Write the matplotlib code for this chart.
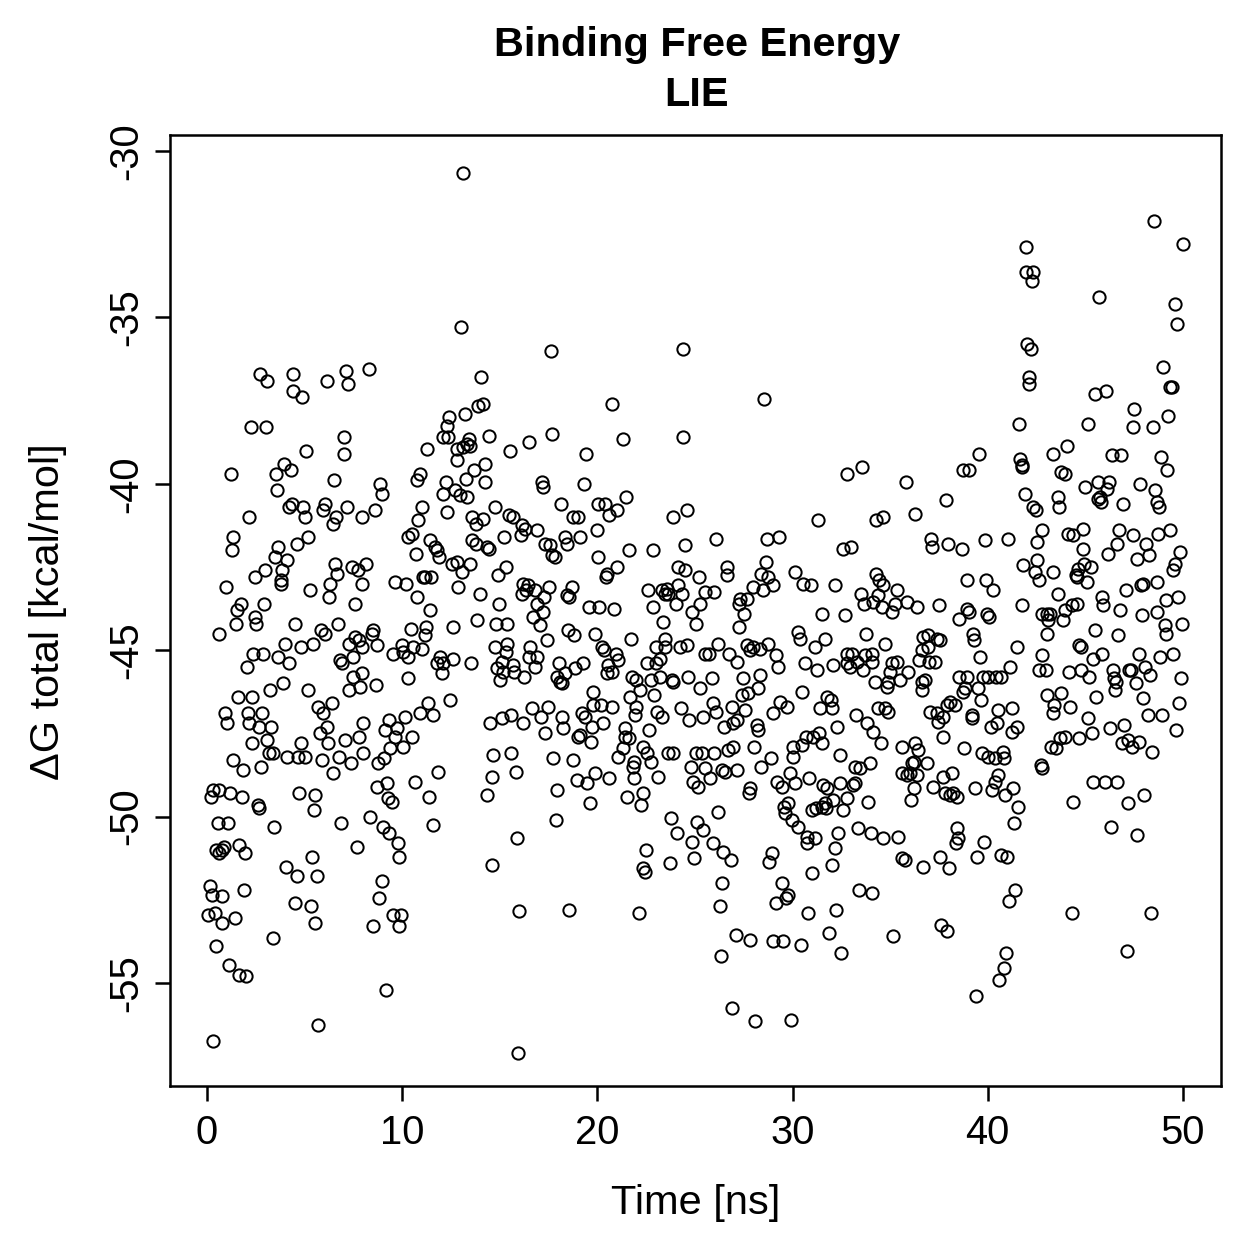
#!/usr/bin/python
# LIE binding free energy vs simulation time, R base-graphics look
import matplotlib
matplotlib.use("Agg")
import matplotlib.pyplot as plt

plt.rcParams['font.family'] = ['Liberation Sans', 'DejaVu Sans']

# values, one block per time window
time_ns = [
    # ~0-8 ns, upper part
    2.7, 3.05, 4.4, 4.4, 4.85, 6.15, 7.1, 7.2, 2.25, 3.0,
    7.0, 7.0, 5.05, 3.95, 4.3, 3.55, 1.25, 6.5, 3.6, 4.35,
    4.2, 4.9, 5.0, 6.05, 5.95, 6.6, 6.45, 7.15, 7.95, 2.15,
    1.35, 1.3, 3.65, 4.6, 5.15, 3.5, 4.1, 2.95, 2.45, 3.85,
    3.8, 3.8, 0.95, 5.3, 6.55, 6.65, 6.3, 6.25, 7.45, 7.75,
    7.95, 7.6, 1.75, 1.55, 2.9, 2.45, 4.5, 6.7,
    # ~0-8 ns, lower part
    1.5, 2.5, 0.6, 5.85, 6.05, 7.6, 7.8, 7.95, 7.3, 2.35,
    2.85, 4.0, 4.8, 5.45, 3.65, 4.2, 2.05, 6.8, 6.9, 7.5,
    7.95, 7.5, 7.25, 7.85, 3.9, 3.25, 1.6, 2.3, 5.2, 5.7,
    6.4, 5.95, 0.9, 1.0, 2.1, 2.15, 2.8, 2.65, 3.3, 5.8,
    6.15, 6.2, 7.05, 7.8, 8.0, 2.3, 3.1, 4.8, 3.2, 3.4,
    4.1, 4.65, 5.0, 5.9, 6.75, 7.4, 6.45, 1.35, 1.85, 2.75,
    8.0, 0.3, 0.6, 0.2, 1.2, 1.8, 2.6, 2.65, 4.7, 5.55,
    5.5, 0.55, 1.1, 3.45, 6.85, 7.7, 0.85, 1.65, 1.95, 0.45,
    0.75, 0.6, 4.05, 4.6, 5.4, 5.65, 0.15, 0.25, 0.75, 1.9,
    0.05, 0.4, 0.75, 1.45, 4.5, 5.35, 5.55, 3.4, 0.45, 1.15,
    1.65, 2.0, 5.7, 0.3,
    # ~8-17 ns, upper part
    13.1, 13.0, 8.3, 14.05, 14.15, 13.9, 13.2, 12.4, 12.3, 12.1,
    12.35, 13.4, 13.3, 13.1, 13.5, 12.8, 14.45, 12.8, 16.5, 15.5,
    11.25, 14.25, 13.7, 13.25, 14.25, 10.9, 10.75, 8.85, 8.95, 12.25,
    12.1, 12.7, 12.95, 13.3, 11.0, 12.3, 14.75, 8.6, 10.8, 13.6,
    13.8, 14.15, 15.45, 15.7, 16.15, 16.3, 16.1, 10.5, 10.3, 11.4,
    11.7, 11.8, 11.9, 10.7, 13.6, 13.8, 14.35, 14.45, 15.2, 8.15,
    12.55, 12.8, 13.5, 13.05, 15.3, 14.9, 9.65, 10.2, 11.05, 11.15,
    11.5, 12.85, 10.75, 11.45, 14.0, 14.95, 16.2, 16.45, 16.35, 16.15,
    # ~8-17 ns, lower part
    13.85, 14.8, 15.35, 16.7, 12.6, 10.45, 11.2, 11.15, 8.5, 8.45,
    8.7, 9.55, 10.0, 10.05, 10.3, 10.55, 11.0, 10.3, 11.95, 11.8,
    12.1, 12.05, 12.6, 13.55, 14.75, 15.35, 15.3, 14.85, 15.1, 15.15,
    15.0, 15.7, 15.75, 16.25, 16.55, 16.5, 8.65, 11.3, 10.9, 11.6,
    12.45, 10.15, 9.3, 9.1, 9.75, 9.65, 10.5, 10.05, 9.4, 14.5,
    15.1, 15.6, 16.2, 16.65, 8.75, 9.05, 14.65, 15.6, 15.85, 14.6,
    14.35, 11.85, 10.65, 11.35, 8.7, 9.2, 9.25, 9.5, 8.35, 9.0,
    9.35, 9.8, 9.85, 11.6, 15.9, 14.6, 8.95, 8.8, 9.55, 9.95,
    9.85, 8.5, 16.0, 9.15, 15.95,
    # ~17-25 ns, upper part
    17.6, 24.4, 20.75, 17.7, 21.3, 24.4, 19.4, 17.15, 17.2, 19.3,
    18.15, 20.05, 20.4, 21.45, 21.0, 20.6, 18.75, 19.0, 23.85, 24.6,
    16.9, 17.3, 17.55, 17.7, 17.85, 18.35, 18.45, 19.1, 20.0, 20.05,
    21.6, 22.85, 24.5, 21.0, 20.5, 20.45, 24.15, 24.5, 25.2, 16.8,
    17.5, 17.25, 16.9, 17.2, 18.7, 18.45, 18.55, 19.55, 20.1, 20.85,
    22.6, 23.3, 23.55, 23.6, 23.45, 24.15, 24.35, 24.05, 22.85, 25.25,
    25.5, 24.85,
    # ~17-25 ns, lower part
    17.05, 23.35, 25.05, 18.5, 18.8, 19.9, 17.4, 21.7, 23.45, 23.0,
    23.45, 24.25, 24.6, 20.25, 20.35, 20.95, 21.05, 25.5, 16.9, 16.8,
    18.05, 18.85, 19.25, 18.35, 17.95, 18.1, 18.2, 20.55, 20.75, 20.5,
    22.55, 23.0, 23.2, 22.75, 23.2, 23.85, 23.8, 21.75, 22.0, 22.2,
    24.65, 25.25, 19.8, 19.8, 20.2, 20.75, 20.3, 17.45, 17.1, 18.2,
    18.25, 19.2, 19.35, 19.7, 19.65, 19.1, 19.0, 17.3, 21.65, 22.0,
    21.95, 22.9, 23.05, 23.3, 24.3, 24.7, 25.4, 21.4, 21.4, 21.6,
    22.65, 22.35, 22.55, 22.75, 21.3, 21.05, 21.9, 21.85, 21.9, 23.1,
    23.6, 23.9, 25.05, 25.35, 24.8, 25.5, 24.9, 25.15, 17.75, 18.75,
    18.95, 19.45, 19.9, 20.6, 17.95, 19.6, 21.5, 22.35, 22.25, 17.9,
    23.75, 24.1, 25.1, 25.4, 24.85, 24.95, 23.7, 22.5, 22.35, 22.45,
    18.55, 22.15,
    # ~25-34 ns, upper part
    28.55, 32.8, 33.55, 31.3, 26.1, 28.7, 29.3, 28.65, 28.4, 28.75,
    29.0, 28.5, 27.95, 26.65, 26.65, 32.6, 33.0, 30.1, 30.55, 30.95,
    32.2, 33.5, 33.65, 34.1, 26.0, 27.3, 27.65, 27.25, 27.5, 31.5,
    32.7,
    # ~25-34 ns, lower part
    27.25, 30.3, 30.4, 31.65, 31.15, 33.75, 26.2, 25.7, 26.75, 27.15,
    27.65, 27.95, 27.8, 28.35, 28.75, 29.15, 29.25, 30.65, 31.25, 32.05,
    32.8, 33.05, 32.8, 32.95, 33.3, 33.7, 33.6, 34.05, 25.85, 27.45,
    28.35, 28.25, 27.4, 27.7, 25.9, 26.1, 26.9, 27.55, 26.5, 26.95,
    27.15, 28.2, 28.25, 28.05, 29.0, 29.35, 29.7, 30.5, 31.4, 31.75,
    31.95, 32.0, 32.3, 33.25, 33.8, 34.1, 26.0, 26.7, 26.95, 25.75,
    26.4, 26.55, 27.15, 28.4, 28.9, 30.0, 30.0, 30.5, 30.7, 31.05,
    31.35, 31.5, 32.45, 33.2, 33.45, 33.95, 27.8, 27.75, 29.2, 29.45,
    29.85, 30.15, 30.85, 31.55, 31.75, 32.45, 32.8, 32.05, 33.1, 33.2,
    33.85, 29.55, 29.75, 29.6, 29.95, 30.3, 31.0, 31.2, 31.5, 31.7,
    31.65, 32.6, 26.2, 25.9, 26.45, 26.85, 30.75, 30.75, 31.15, 32.35,
    32.15, 32.0, 31.0, 33.35, 34.0, 28.95, 28.8, 29.45, 29.75, 29.65,
    29.15, 26.4, 26.3, 30.8, 32.25, 33.4, 34.05, 27.1, 27.8, 29.0,
    29.5, 30.45, 31.85, 32.5, 26.35, 26.9, 28.1, 29.9,
    # ~34-43 ns, upper part
    41.95, 41.95, 42.3, 42.25, 42.0, 42.2, 42.1, 42.1, 41.6, 39.55,
    41.65, 41.75, 41.75, 38.75, 39.05, 35.8, 37.85, 41.9, 42.3, 42.45,
    34.25, 34.65, 36.25, 37.1, 37.15, 37.95, 38.7, 39.85, 41.05, 42.8,
    42.5, 41.8, 42.5, 42.4, 42.65, 34.3, 34.45, 34.65, 35.35, 35.85,
    35.25, 34.4, 34.6, 35.1, 36.4, 37.5, 38.95, 39.9, 40.25, 38.95,
    39.05, 39.95, 40.05, 41.75, 42.8,
    # ~34-43 ns, lower part
    38.55, 34.75, 34.05, 34.2, 34.9, 34.85, 35.0, 35.1, 35.35, 35.5,
    35.9, 36.7, 36.95, 37.4, 37.55, 36.65, 36.95, 36.5, 37.0, 37.3,
    36.65, 36.8, 36.65, 39.25, 39.3, 39.6, 41.5, 41.15, 38.55, 38.95,
    39.75, 40.0, 40.4, 40.7, 38.85, 38.75, 39.5, 39.65, 38.05, 38.3,
    37.9, 37.05, 37.4, 37.7, 37.45, 39.2, 39.2, 40.5, 41.25, 41.5,
    41.25, 40.45, 40.15, 37.7, 34.4, 34.75, 34.9, 34.55, 35.6, 36.25,
    36.45, 36.2, 36.1, 36.9, 35.6, 35.85, 36.0, 36.35, 36.2, 36.05,
    37.2, 37.7, 38.15, 37.8, 38.05, 38.2, 38.45, 38.8, 39.7, 40.0,
    40.35, 40.8, 40.85, 39.35, 40.2, 40.35, 40.5, 40.9, 41.3, 41.55,
    41.35, 34.65, 35.4, 35.6, 35.75, 36.7, 37.55, 38.0, 38.4, 38.5,
    38.35, 39.8, 39.45, 40.7, 41.0, 41.4, 41.1, 37.6, 37.9, 35.15,
    40.95, 40.85, 40.6, 39.4,
    # ~43-50 ns, upper part
    48.5, 50.0, 45.7, 49.6, 49.7, 49.0, 45.5, 46.05, 49.35, 49.45,
    47.5, 47.45, 48.45, 49.25, 45.15, 44.05, 43.35, 43.75, 43.95, 46.35,
    46.85, 48.9, 49.2, 45.0, 45.65, 46.2, 46.1, 45.75, 45.65, 45.8,
    47.8, 48.55, 48.65, 48.75, 46.95, 43.6, 43.65, 44.1, 44.35, 44.9,
    46.7, 46.6, 47.45, 48.1, 48.7, 49.35, 44.9, 46.15, 47.65, 48.25,
    49.85, 49.6, 49.5, 43.35, 44.6, 44.95, 45.3, 44.5, 44.55, 45.1,
    43.6, 47.1, 47.85, 47.95, 48.65, 49.15, 49.75, 45.85, 45.9, 46.75,
    44.3, 44.55, 43.95, 43.05, 43.2, 47.9, 48.65,
    # ~43-50 ns, lower part
    43.1, 43.85, 49.1, 49.15, 49.95, 45.5, 46.65, 43.05, 44.7, 44.8,
    45.4, 45.85, 47.75, 48.85, 49.5, 42.8, 42.65, 43.0, 44.15, 44.8,
    45.2, 46.4, 46.45, 46.55, 46.5, 47.25, 47.35, 47.6, 48.05, 48.3,
    49.9, 43.05, 43.75, 43.4, 43.35, 44.2, 45.55, 47.95, 49.8, 45.15,
    45.35, 46.25, 47.0, 46.9, 47.2, 47.4, 47.75, 48.4, 48.2, 48.95,
    49.65, 44.65, 43.95, 43.7, 43.25, 43.5, 42.75, 42.8, 45.4, 46.0,
    46.6, 44.35, 47.2, 48.0, 46.3, 47.65, 44.3, 48.35, 47.15,
]

dg_total = [
    # ~0-8 ns, upper part
    -36.7, -36.9, -36.7, -37.2, -37.4, -36.9, -36.6, -37.0, -38.3, -38.3,
    -38.6, -39.1, -39.0, -39.4, -39.6, -39.7, -39.7, -39.9, -40.2, -40.6,
    -40.7, -40.7, -41.0, -40.6, -40.8, -41.0, -41.2, -40.7, -41.0, -41.0,
    -41.6, -42.0, -41.9, -41.8, -41.6, -42.2, -42.3, -42.6, -42.8, -42.6,
    -42.9, -43.0, -43.1, -43.2, -42.4, -42.7, -43.0, -43.4, -42.5, -42.6,
    -43.0, -43.6, -43.6, -43.8, -43.6, -44.0, -44.2, -44.2,
    # ~0-8 ns, lower part
    -44.2, -44.2, -44.5, -44.4, -44.5, -44.6, -44.7, -44.9, -44.8, -45.1,
    -45.1, -44.8, -44.9, -44.8, -45.2, -45.4, -45.5, -45.3, -45.4, -45.2,
    -45.7, -45.8, -46.2, -46.1, -46.0, -46.2, -46.4, -46.4, -46.2, -46.7,
    -46.6, -46.9, -46.9, -47.2, -46.9, -47.2, -46.9, -47.3, -47.3, -47.5,
    -47.3, -47.8, -47.7, -47.6, -47.2, -47.8, -47.7, -47.8, -48.1, -48.1,
    -48.2, -48.2, -48.2, -48.3, -48.2, -48.4, -48.7, -48.3, -48.6, -48.5,
    -48.1, -49.2, -49.2, -49.4, -49.3, -49.4, -49.65, -49.75, -49.3, -49.35,
    -49.8, -50.2, -50.2, -50.3, -50.2, -50.9, -50.9, -50.85, -51.1, -51.0,
    -51.0, -51.1, -51.5, -51.8, -51.2, -51.8, -52.1, -52.35, -52.4, -52.2,
    -52.95, -52.9, -53.2, -53.05, -52.6, -52.7, -53.2, -53.65, -53.9, -54.45,
    -54.75, -54.8, -56.25, -56.75,
    # ~8-17 ns, upper part
    -30.65, -35.3, -36.55, -36.8, -37.6, -37.65, -37.9, -38.0, -38.25, -38.6,
    -38.6, -38.65, -38.8, -38.9, -38.85, -38.95, -38.55, -39.3, -38.75, -39.0,
    -38.95, -39.4, -39.6, -39.85, -39.95, -39.7, -39.9, -40.0, -40.3, -39.95,
    -40.3, -40.2, -40.35, -40.4, -40.7, -40.85, -40.7, -40.8, -41.1, -41.0,
    -41.2, -41.05, -40.95, -41.0, -41.25, -41.35, -41.55, -41.5, -41.6, -41.7,
    -41.9, -42.0, -42.2, -42.1, -41.7, -41.8, -41.9, -41.95, -41.6, -42.4,
    -42.4, -42.35, -42.4, -42.65, -42.5, -42.75, -42.95, -43.0, -42.8, -42.8,
    -42.8, -43.1, -43.4, -43.8, -43.3, -43.6, -43.0, -43.05, -43.2, -43.3,
    # ~8-17 ns, lower part
    -44.1, -44.2, -44.2, -44.0, -44.3, -44.35, -44.3, -44.55, -44.4, -44.5,
    -44.85, -45.1, -44.85, -45.05, -45.2, -44.9, -44.95, -45.85, -45.2, -45.4,
    -45.4, -45.7, -45.25, -45.4, -44.9, -44.8, -45.05, -45.55, -45.35, -45.65,
    -45.9, -45.45, -45.65, -45.8, -44.9, -45.2, -46.05, -46.6, -46.9, -46.95,
    -46.5, -47.0, -47.1, -47.4, -47.35, -47.6, -47.6, -47.9, -47.95, -47.2,
    -47.05, -46.95, -47.2, -46.75, -48.4, -48.25, -48.15, -48.1, -48.65, -48.8,
    -49.35, -48.65, -48.95, -49.4, -49.1, -49.0, -49.45, -49.55, -50.0, -50.3,
    -50.5, -50.8, -51.2, -50.25, -50.65, -51.45, -51.95, -52.45, -52.95, -52.95,
    -53.3, -53.3, -52.85, -55.2, -57.1,
    # ~17-25 ns, upper part
    -36.0, -35.95, -37.6, -38.5, -38.65, -38.6, -39.1, -39.95, -40.1, -40.0,
    -40.6, -40.6, -40.6, -40.4, -40.8, -40.95, -41.0, -41.0, -41.0, -40.8,
    -41.4, -41.8, -41.85, -42.15, -42.2, -41.6, -41.8, -41.6, -41.4, -42.2,
    -42.0, -42.0, -41.85, -42.5, -42.7, -42.8, -42.5, -42.6, -42.8, -43.2,
    -43.1, -43.4, -43.6, -43.85, -43.1, -43.35, -43.4, -43.7, -43.7, -43.75,
    -43.2, -43.2, -43.15, -43.3, -43.3, -43.05, -43.3, -43.6, -43.7, -43.6,
    -43.25, -43.85,
    # ~17-25 ns, lower part
    -44.25, -44.15, -44.2, -44.4, -44.55, -44.5, -44.7, -44.65, -44.65, -44.9,
    -44.9, -44.9, -44.85, -44.9, -45.0, -45.1, -45.3, -45.1, -45.2, -45.5,
    -45.4, -45.55, -45.4, -45.7, -45.8, -45.95, -46.0, -45.45, -45.65, -45.7,
    -45.4, -45.4, -45.25, -45.9, -45.8, -45.95, -45.9, -45.8, -45.9, -46.2,
    -45.8, -46.15, -46.25, -46.65, -46.65, -46.7, -47.2, -46.7, -47.0, -47.0,
    -47.35, -46.9, -47.0, -47.3, -47.75, -47.55, -47.6, -47.5, -46.4, -46.7,
    -46.95, -46.35, -46.85, -47.0, -46.75, -47.1, -47.0, -47.35, -47.6, -47.65,
    -47.4, -47.9, -48.1, -48.35, -47.95, -48.2, -48.35, -48.5, -48.85, -48.8,
    -48.1, -48.1, -48.1, -48.1, -48.5, -48.55, -48.95, -49.1, -48.25, -48.3,
    -48.9, -49.0, -48.7, -48.85, -49.2, -49.6, -49.4, -49.3, -49.65, -50.1,
    -50.05, -50.5, -50.15, -50.4, -50.75, -51.25, -51.4, -51.0, -51.55, -51.65,
    -52.8, -52.9,
    # ~25-34 ns, upper part
    -37.45, -39.7, -39.5, -41.1, -41.65, -41.65, -41.6, -42.35, -42.7, -42.8,
    -43.05, -43.2, -43.1, -42.5, -42.75, -41.95, -41.9, -42.65, -43.0, -43.05,
    -43.05, -43.3, -43.6, -43.55, -43.25, -43.45, -43.45, -43.6, -43.9, -43.9,
    -43.95,
    # ~25-34 ns, lower part
    -44.3, -44.45, -44.65, -44.65, -44.9, -44.5, -44.8, -45.1, -45.1, -45.35,
    -44.85, -44.9, -45.0, -44.95, -44.8, -45.15, -45.5, -45.4, -45.6, -45.45,
    -45.1, -45.1, -45.4, -45.5, -45.35, -45.15, -45.6, -45.35, -45.85, -45.85,
    -45.75, -46.15, -46.35, -46.3, -46.6, -46.85, -46.7, -46.8, -47.3, -47.2,
    -47.1, -47.25, -47.4, -47.9, -46.9, -46.55, -46.7, -46.25, -46.75, -46.4,
    -46.5, -46.75, -47.3, -46.95, -47.2, -47.45, -48.1, -48.0, -47.9, -48.85,
    -48.6, -48.65, -48.6, -48.5, -48.25, -47.9, -48.2, -47.85, -47.6, -47.6,
    -47.5, -47.8, -48.15, -48.5, -48.55, -48.4, -49.15, -49.3, -48.95, -49.1,
    -48.7, -49.0, -48.85, -49.05, -49.15, -49.0, -49.45, -49.5, -49.05, -49.0,
    -49.55, -49.7, -49.6, -49.9, -50.1, -50.3, -49.8, -49.75, -49.7, -49.75,
    -49.6, -49.8, -49.85, -50.8, -51.05, -51.3, -50.6, -50.8, -50.65, -50.5,
    -50.95, -51.45, -51.7, -50.35, -50.5, -51.1, -51.35, -52.0, -52.35, -52.45,
    -52.6, -52.0, -52.7, -52.9, -52.8, -52.2, -52.3, -53.55, -53.7, -53.75,
    -53.75, -53.85, -53.5, -54.1, -54.2, -55.75, -56.15, -56.1,
    # ~34-43 ns, upper part
    -32.9, -33.65, -33.65, -33.9, -35.8, -35.95, -36.8, -37.0, -38.2, -39.1,
    -39.25, -39.45, -39.5, -39.6, -39.6, -39.95, -40.5, -40.3, -40.7, -40.8,
    -41.1, -41.0, -40.9, -41.65, -41.9, -41.8, -41.95, -41.7, -41.65, -41.4,
    -41.75, -42.45, -42.3, -42.65, -42.9, -42.7, -42.9, -43.05, -43.2, -43.55,
    -43.6, -43.35, -43.7, -43.85, -43.7, -43.65, -42.9, -42.9, -43.2, -43.75,
    -43.85, -43.9, -44.0, -43.65, -43.9,
    # ~34-43 ns, lower part
    -44.05, -44.8, -45.1, -45.95, -45.95, -46.1, -45.65, -45.4, -45.35, -45.9,
    -45.65, -44.6, -44.55, -44.65, -44.7, -45.0, -44.9, -45.3, -45.35, -45.35,
    -45.95, -45.9, -46.2, -44.5, -44.7, -45.2, -44.9, -45.5, -45.8, -45.8,
    -45.8, -45.8, -45.8, -45.8, -46.15, -46.25, -46.15, -46.5, -46.55, -46.65,
    -46.65, -46.85, -46.9, -47.0, -47.15, -46.95, -47.05, -46.8, -46.75, -47.3,
    -47.45, -47.2, -47.3, -47.6, -46.75, -46.75, -46.85, -47.8, -47.9, -47.8,
    -48.0, -48.35, -48.4, -48.4, -48.7, -48.75, -48.7, -48.75, -49.15, -49.5,
    -49.1, -48.8, -48.7, -49.3, -49.35, -49.3, -49.4, -47.95, -48.1, -48.2,
    -48.25, -48.05, -48.25, -49.15, -49.2, -48.95, -48.75, -49.35, -49.15, -49.7,
    -50.2, -50.65, -50.6, -51.25, -51.3, -51.5, -51.2, -51.55, -50.35, -50.65,
    -50.8, -50.75, -51.2, -51.15, -51.2, -52.2, -52.55, -53.25, -53.45, -53.6,
    -54.1, -54.55, -54.9, -55.4,
    # ~43-50 ns, upper part
    -32.1, -32.8, -34.4, -34.6, -35.2, -36.5, -37.3, -37.2, -37.1, -37.1,
    -37.75, -38.3, -38.3, -37.95, -38.2, -38.85, -39.1, -39.65, -39.7, -39.15,
    -39.15, -39.2, -39.6, -40.1, -39.95, -39.95, -40.15, -40.4, -40.45, -40.55,
    -40.0, -40.2, -40.55, -40.7, -40.6, -40.4, -40.7, -41.5, -41.55, -41.35,
    -41.4, -41.8, -41.55, -41.8, -41.5, -41.4, -41.95, -42.1, -42.25, -42.15,
    -42.05, -42.4, -42.6, -42.65, -42.55, -42.4, -42.5, -42.75, -42.8, -42.95,
    -43.3, -43.2, -43.05, -43.0, -42.95, -43.5, -43.4, -43.4, -43.65, -43.8,
    -43.65, -43.6, -43.8, -43.9, -43.9, -43.95, -43.85,
    # ~43-50 ns, lower part
    -44.1, -44.1, -44.25, -44.5, -44.2, -44.4, -44.55, -44.5, -44.85, -44.9,
    -45.25, -45.1, -45.1, -45.2, -45.1, -45.15, -45.6, -45.6, -45.65, -45.6,
    -45.8, -45.6, -45.85, -45.95, -46.2, -45.6, -45.6, -46.0, -45.5, -45.75,
    -45.85, -46.35, -46.3, -46.65, -46.9, -46.7, -46.4, -46.45, -46.6, -47.05,
    -47.5, -47.35, -47.25, -47.8, -47.7, -47.9, -47.75, -48.05, -46.95, -46.95,
    -47.4, -47.65, -47.6, -47.65, -47.9, -47.95, -48.45, -48.55, -48.95, -48.95,
    -48.95, -49.55, -49.6, -49.35, -50.3, -50.55, -52.9, -52.9, -54.05,
]

x_ticks = [0, 10, 20, 30, 40, 50]
y_ticks = [-55, -50, -45, -40, -35, -30]

title_lines = ["Binding Free Energy", "LIE"]
x_label = "Time [ns]"
y_label = "\u0394G total [kcal/mol]"

fs = 16
fs_lab = 16.6
W = 1259

fig = plt.figure(figsize=(W / 180.0, W / 180.0), dpi=180)
ax = fig.add_axes([170 / W, 1 - 1086 / W, (1221 - 170) / W, (1086 - 135) / W])

ax.plot(time_ns, dg_total, 'o', linestyle='none', markersize=4.9,
        markerfacecolor='none', markeredgecolor='black', markeredgewidth=0.8)

ax.set_xlim(-1.895, 51.95)
ax.set_ylim(-58.095, -29.52)
ax.set_xticks(x_ticks)
ax.set_yticks(y_ticks)
ax.set_xticklabels([str(v) for v in x_ticks])
ax.set_yticklabels([str(v) for v in y_ticks], rotation=90, va='center')

for s in ax.spines.values():
    s.set_linewidth(1.0)
ax.tick_params(direction='out', length=6, width=1.0, labelsize=fs, color='black')
ax.tick_params(axis='x', pad=5)
ax.tick_params(axis='y', pad=4)

fig.text(697 / W, 1 - 45 / W, title_lines[0], ha='center', va='center',
         fontsize=fs_lab, fontweight='bold')
fig.text(697 / W, 1 - 95 / W, title_lines[1], ha='center', va='center',
         fontsize=fs_lab, fontweight='bold')
fig.text(696 / W, 1 - 1203 / W, x_label, ha='center', va='center', fontsize=fs_lab)
fig.text(48 / W, 1 - 612 / W, y_label, ha='center', va='center',
         fontsize=fs_lab, rotation=90)

fig.savefig("out.png", dpi=180)
